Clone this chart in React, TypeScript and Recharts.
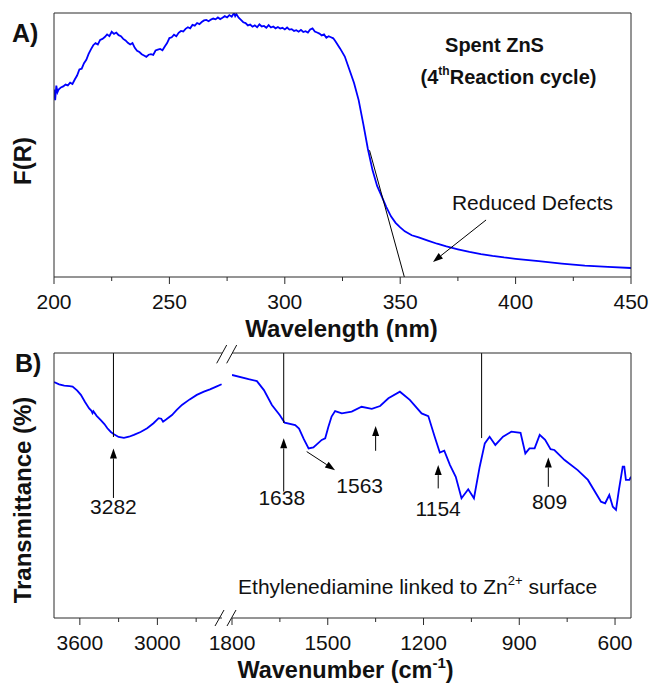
import React from 'react';
import { LineChart, Line, XAxis, YAxis, ReferenceLine, ReferenceDot } from 'recharts';

// ---------- Panel A: UV-Vis DRS (Kubelka-Munk) ----------
const uvWavelength = [
  200, 200.5, 201, 201.5, 202, 203, 204, 205, 206, 207,
  208, 209, 210, 211, 212, 213, 214, 215, 216, 217,
  218, 219, 220, 221, 222, 223, 224, 225, 226, 227,
  228, 229, 230, 231, 232, 233, 234, 235, 236, 237,
  238, 239, 240, 241, 242, 243, 244, 245, 246, 247,
  248, 249, 250, 251, 252, 253, 254, 255, 256, 257,
  258, 259, 260, 261, 262, 263, 264, 265, 266, 267,
  268, 269, 270, 271, 272, 273, 274, 275, 276, 277,
  278, 278.5, 279, 280, 281, 282, 283, 284, 285, 286,
  287, 288, 289, 290, 291, 292, 293, 294, 295, 296,
  297, 298, 299, 300, 301, 302, 303, 304, 305, 306,
  307, 308, 309, 310, 311, 312, 313, 314, 315, 316,
  317, 318, 319, 320, 321, 322, 324, 326, 328, 330,
  332, 334, 336, 338, 340, 342, 344, 346, 348, 350,
  352, 355, 358, 362, 366, 370, 375, 380, 385, 390,
  395, 400, 410, 420, 430, 440, 450,
];
const uvFR = [
  71, 67, 72.5, 70, 71, 71.8, 72.2, 72.9, 72.6, 73.6,
  73.1, 74.8, 76.3, 78.6, 78.9, 81, 82.3, 84.5, 86.2, 87.8,
  88.6, 88.1, 89.8, 90.2, 90.9, 91.9, 91.2, 92.9, 92.1, 92.6,
  91.6, 91.2, 90.2, 89.6, 88.7, 88.1, 88.6, 86.8, 85.7, 85.2,
  84.4, 83.9, 83.4, 84.2, 84.4, 84.1, 85.8, 86.1, 86.4, 85.9,
  87.3, 88.6, 90.5, 90.8, 91.8, 91.2, 92.5, 93.2, 93, 94,
  94.6, 94.2, 95.5, 95.2, 96.2, 95.8, 96.6, 97.2, 97.4, 96.9,
  97.5, 97.9, 97.6, 98.3, 97.7, 98.2, 98.8, 98.3, 99.2, 98.6,
  100, 98.8, 99.6, 98.2, 97.4, 96.5, 96.2, 95.3, 95.6, 94.8,
  95.3, 94.6, 95.7, 94.9, 95.1, 94.4, 95.4, 94.5, 94.9, 94.2,
  94.7, 94.1, 94.4, 93.8, 94.5, 93.7, 93.9, 93.2, 93.5, 92.9,
  93.6, 92.8, 93.1, 92.6, 93.8, 94.2, 93, 92.6, 92.2, 91.5,
  91.9, 90.6, 91.2, 90.8, 90.4, 89.2, 86.5, 83.5, 78.5, 73.5,
  67, 58, 48.5, 40.5, 34.5, 30.5, 26.5, 23, 20.5, 18.8,
  17.3, 15.8, 15, 13.8, 12.6, 11.6, 10.5, 9.5, 8.7, 8,
  7.4, 6.9, 6, 5.1, 4.3, 3.8, 3.4,
];
const uvTicks = [200, 225, 250, 275, 300, 325, 350, 375, 400, 425, 450];
const uvMajorTicks = [200, 250, 300, 350, 400, 450];
const uvYTicks = [10, 20, 30, 40, 50, 60, 70, 80, 90];

// ---------- Panel B: FTIR (broken axis) ----------
const irWavenumberHigh = [
  3800, 3760, 3721, 3680, 3656, 3620, 3592, 3560, 3528, 3510, 3502, 3495, 3470, 3438, 3410, 3387, 3360, 3336,
  3300, 3259, 3220, 3182, 3130, 3079, 3030, 2990, 2970, 2956, 2930, 2887, 2850, 2810, 2750, 2695, 2640, 2593,
  2540, 2503,
];
const irTransHigh = [
  89, 88.2, 87.7, 87.5, 87.3, 85.8, 84.2, 81.5, 79.1, 78.2, 77.3, 78, 76.3, 74.7, 73.2, 71.6, 70.2, 69.3,
  68.3, 68.0, 68.4, 69.1, 70.2, 71.6, 73.5, 75.4, 75.2, 74.1, 75, 76.6, 78.5, 80.4, 82.5, 84.2, 85.4, 86.3,
  87.4, 88.2,
];
const irWavenumberLow = [
  1800, 1748, 1722, 1700, 1675, 1650, 1635, 1602, 1590, 1575, 1560, 1545, 1530, 1519, 1508, 1498, 1488, 1477,
  1456, 1425, 1394, 1362, 1336, 1310, 1274, 1243, 1206, 1185, 1165, 1149, 1135, 1117, 1099, 1081, 1060, 1042,
  1024, 1008, 993, 975, 951, 925, 896, 881, 868, 852, 836, 819, 802, 790, 758, 717, 685, 644, 631, 618,
  607, 597, 588, 576, 571, 566, 555, 550,
];
const irTransLow = [
  91.7, 90.1, 89.4, 86, 80.4, 76.5, 73.7, 72.8, 71.5, 67.5, 64.0, 64.4, 66, 67.2, 67.8, 72.2, 76, 78.1,
  77.2, 77.9, 79.7, 78.9, 80.0, 82.9, 85.4, 82.3, 77.2, 76.2, 68.4, 62.4, 63.1, 57.7, 53.3, 45.2, 48.6, 45.2,
  57.1, 65.9, 68.4, 65.3, 68.4, 70.3, 69.9, 62.1, 64.0, 64, 69.1, 67.2, 63.7, 63.4, 59.6, 55.8, 52.1, 43.9, 43.3, 46.4,
  42.0, 40.8, 48.3, 57.1, 57.1, 52.1, 52.1, 53.3,
];
const irHighTicks = [3600, 3300, 3000, 2700];
const irHighMajorTicks = [3600, 3000];
const irLowTicks = [1800, 1650, 1500, 1350, 1200, 1050, 900, 750, 600];
const irLowMajorTicks = [1800, 1500, 1200, 900, 600];
const irYTicks = [14.7, 29.4, 44.1, 58.8, 73.5, 88.2];

// annotation anchors (data coordinates)
const irPeakLines = [
  { seg: 'high', x: 3340, from: 100, to: 68.3 },
  { seg: 'low', x: 1638, from: 100, to: 73.6 },
  { seg: 'low', x: 1018, from: 100, to: 67.9 },
];
const irArrows = [
  { seg: 'high', x1: 3340, y1: 45.3, x2: 3340, y2: 64.0 },
  { seg: 'low', x1: 1638, y1: 47.7, x2: 1638, y2: 67.8 },
  { seg: 'low', x1: 1566, y1: 62.8, x2: 1477, y2: 55.8 },
  { seg: 'low', x1: 1350, y1: 63.1, x2: 1350, y2: 72.5 },
  { seg: 'low', x1: 1154, y1: 48.9, x2: 1154, y2: 57.7 },
  { seg: 'low', x1: 809, y1: 49.5, x2: 809, y2: 60.6 },
];
const irLabels = [
  { seg: 'high', x: 3340, y: 39.2, text: '3282' },
  { seg: 'low', x: 1644, y: 42.6, text: '1638' },
  { seg: 'low', x: 1400, y: 47.2, text: '1563' },
  { seg: 'low', x: 1154, y: 38.5, text: '1154' },
  { seg: 'low', x: 805, y: 41.1, text: '809' },
];

const uvData = uvWavelength.map((x, i) => ({ x, y: uvFR[i] }));
const irHighData = irWavenumberHigh.map((x, i) => ({ x, y: irTransHigh[i] }));
const irLowData = irWavenumberLow.map((x, i) => ({ x, y: irTransLow[i] }));

const FONT = '"Liberation Sans", Arial, Helvetica, sans-serif';
const AXIS = '#2a2a2a';
const BLUE = '#0000ff';
const TICK_FS = 21;
const NOTE_FS = 21;

function bottomTick(majors: number[]) {
  return (props: any) => {
    const { x, y, payload } = props;
    const isMajor = majors.includes(payload.value);
    return (
      <g>
        <line x1={x} y1={y} x2={x} y2={y + (isMajor ? 7 : 4)} stroke={AXIS} strokeWidth={1} />
        {isMajor && (
          <text x={x} y={y + 32} textAnchor="middle" fontSize={TICK_FS} fontFamily={FONT} fill="#111">
            {payload.value}
          </text>
        )}
      </g>
    );
  };
}

const arrowShape = (p: any) => {
  const { x1, y1, x2, y2 } = p;
  const dx = x2 - x1;
  const dy = y2 - y1;
  const len = Math.hypot(dx, dy) || 1;
  const ux = dx / len;
  const uy = dy / len;
  const hl = 10;
  const hw = 3.5;
  const bx = x2 - ux * hl;
  const by = y2 - uy * hl;
  const pts = `${x2},${y2} ${bx - uy * hw},${by + ux * hw} ${bx + uy * hw},${by - ux * hw}`;
  return (
    <g>
      <line x1={x1} y1={y1} x2={bx} y2={by} stroke="#000" strokeWidth={1} />
      <polygon points={pts} fill="#000" />
    </g>
  );
};

const plainLine = (p: any) => (
  <line x1={p.x1} y1={p.y1} x2={p.x2} y2={p.y2} stroke="#000" strokeWidth={1} />
);

const textShape = (text: string, anchor: 'middle' | 'start' = 'middle') => (p: any) => (
  <text x={p.cx} y={p.cy} textAnchor={anchor} fontSize={NOTE_FS} fontFamily={FONT} fill="#111">
    {text}
  </text>
);

const zincShape = (p: any) => (
  <text x={p.cx} y={p.cy} textAnchor="start" fontSize={NOTE_FS} fontFamily={FONT} fill="#111">
    Ethylenediamine linked to Zn
    <tspan fontSize={13} dy={-9}>2+</tspan>
    <tspan dy={9}> surface</tspan>
  </text>
);

const hiddenLine = (xId: string, yId: string) => (
  <Line
    xAxisId={xId}
    yAxisId={yId}
    dataKey="y"
    stroke="none"
    dot={false}
    activeDot={false}
    isAnimationActive={false}
    legendType="none"
  />
);

export default function App() {
  return (
    <div
      style={{
        position: 'absolute',
        left: 0,
        top: 0,
        width: 651,
        height: 688,
        background: '#fff',
        fontFamily: FONT,
        overflow: 'hidden',
      }}
    >
      {/* Panel A */}
      <div style={{ position: 'absolute', left: 0, top: 0 }}>
        <LineChart width={651} height={345} data={uvData} margin={{ top: 13, right: 20, bottom: 28, left: 54 }}>
          <XAxis
            xAxisId="b"
            dataKey="x"
            type="number"
            domain={[200, 450]}
            ticks={uvTicks}
            interval={0}
            allowDataOverflow
            tickLine={false}
            tickSize={0}
            tickMargin={0}
            tick={bottomTick(uvMajorTicks)}
            height={40}
            axisLine={{ stroke: AXIS }}
          />
          <XAxis
            xAxisId="t"
            orientation="top"
            mirror
            dataKey="x"
            type="number"
            domain={[200, 450]}
            ticks={uvTicks}
            interval={0}
            allowDataOverflow
            tick={false}
            tickSize={3}
            axisLine={{ stroke: AXIS }}
            tickLine={{ stroke: AXIS }}
          />
          <YAxis
            yAxisId="l"
            mirror
            type="number"
            domain={[0, 100]}
            ticks={uvYTicks}
            interval={0}
            allowDataOverflow
            tick={false}
            tickSize={3}
            axisLine={{ stroke: AXIS }}
            tickLine={{ stroke: AXIS }}
          />
          <YAxis
            yAxisId="r"
            orientation="right"
            mirror
            type="number"
            domain={[0, 100]}
            ticks={uvYTicks}
            interval={0}
            allowDataOverflow
            tick={false}
            tickSize={3}
            axisLine={{ stroke: AXIS }}
            tickLine={{ stroke: AXIS }}
          />
          <Line
            xAxisId="b"
            yAxisId="l"
            dataKey="y"
            type="linear"
            stroke={BLUE}
            strokeWidth={1.8}
            dot={false}
            activeDot={false}
            isAnimationActive={false}
          />
          {hiddenLine('t', 'r')}
          <ReferenceLine
            xAxisId="b"
            yAxisId="l"
            segment={[{ x: 336.7, y: 48 }, { x: 351.8, y: 0 }]}
            shape={plainLine}
          />
          <ReferenceLine
            xAxisId="b"
            yAxisId="l"
            segment={[{ x: 387.2, y: 21.6 }, { x: 364.2, y: 5.7 }]}
            shape={arrowShape}
          />
          <ReferenceDot xAxisId="b" yAxisId="l" x={407.3} y={25.4} r={0} shape={textShape('Reduced Defects')} />
        </LineChart>
      </div>

      {/* Panel B, high-wavenumber segment */}
      <div style={{ position: 'absolute', left: 0, top: 340 }}>
        <LineChart width={222} height={348} data={irHighData} margin={{ top: 13, right: 0, bottom: 30, left: 54 }}>
          <XAxis
            xAxisId="b"
            dataKey="x"
            type="number"
            domain={[2500, 3800]}
            reversed
            ticks={irHighTicks}
            interval={0}
            allowDataOverflow
            tickLine={false}
            tickSize={0}
            tickMargin={0}
            tick={bottomTick(irHighMajorTicks)}
            height={40}
            axisLine={{ stroke: AXIS }}
          />
          <XAxis
            xAxisId="t"
            orientation="top"
            mirror
            dataKey="x"
            type="number"
            domain={[2500, 3800]}
            reversed
            ticks={irHighTicks}
            interval={0}
            allowDataOverflow
            tick={false}
            tickSize={3}
            axisLine={{ stroke: AXIS }}
            tickLine={{ stroke: AXIS }}
          />
          <YAxis
            yAxisId="l"
            mirror
            type="number"
            domain={[0, 100]}
            ticks={irYTicks}
            interval={0}
            allowDataOverflow
            tick={false}
            tickSize={3}
            axisLine={{ stroke: AXIS }}
            tickLine={{ stroke: AXIS }}
          />
          <Line
            xAxisId="b"
            yAxisId="l"
            dataKey="y"
            type="linear"
            stroke={BLUE}
            strokeWidth={1.8}
            dot={false}
            activeDot={false}
            isAnimationActive={false}
          />
          {hiddenLine('t', 'l')}
          {irPeakLines
            .filter((d) => d.seg === 'high')
            .map((d, i) => (
              <ReferenceLine
                key={`hp${i}`}
                xAxisId="b"
                yAxisId="l"
                segment={[{ x: d.x, y: d.from }, { x: d.x, y: d.to }]}
                shape={plainLine}
              />
            ))}
          {irArrows
            .filter((d) => d.seg === 'high')
            .map((d, i) => (
              <ReferenceLine
                key={`ha${i}`}
                xAxisId="b"
                yAxisId="l"
                segment={[{ x: d.x1, y: d.y1 }, { x: d.x2, y: d.y2 }]}
                shape={arrowShape}
              />
            ))}
          {irLabels
            .filter((d) => d.seg === 'high')
            .map((d, i) => (
              <ReferenceDot key={`hl${i}`} xAxisId="b" yAxisId="l" x={d.x} y={d.y} r={0} shape={textShape(d.text)} />
            ))}
        </LineChart>
      </div>

      {/* Panel B, low-wavenumber segment */}
      <div style={{ position: 'absolute', left: 190, top: 340 }}>
        <LineChart width={461} height={348} data={irLowData} margin={{ top: 13, right: 20, bottom: 30, left: 42 }}>
          <XAxis
            xAxisId="b"
            dataKey="x"
            type="number"
            domain={[550, 1800]}
            reversed
            ticks={irLowTicks}
            interval={0}
            allowDataOverflow
            tickLine={false}
            tickSize={0}
            tickMargin={0}
            tick={bottomTick(irLowMajorTicks)}
            height={40}
            axisLine={{ stroke: AXIS }}
          />
          <XAxis
            xAxisId="t"
            orientation="top"
            mirror
            dataKey="x"
            type="number"
            domain={[550, 1800]}
            reversed
            ticks={irLowTicks}
            interval={0}
            allowDataOverflow
            tick={false}
            tickSize={3}
            axisLine={{ stroke: AXIS }}
            tickLine={{ stroke: AXIS }}
          />
          <YAxis
            yAxisId="r"
            orientation="right"
            mirror
            type="number"
            domain={[0, 100]}
            ticks={irYTicks}
            interval={0}
            allowDataOverflow
            tick={false}
            tickSize={3}
            axisLine={{ stroke: AXIS }}
            tickLine={{ stroke: AXIS }}
          />
          <Line
            xAxisId="b"
            yAxisId="r"
            dataKey="y"
            type="linear"
            stroke={BLUE}
            strokeWidth={1.8}
            dot={false}
            activeDot={false}
            isAnimationActive={false}
          />
          {hiddenLine('t', 'r')}
          {irPeakLines
            .filter((d) => d.seg === 'low')
            .map((d, i) => (
              <ReferenceLine
                key={`lp${i}`}
                xAxisId="b"
                yAxisId="r"
                segment={[{ x: d.x, y: d.from }, { x: d.x, y: d.to }]}
                shape={plainLine}
              />
            ))}
          {irArrows
            .filter((d) => d.seg === 'low')
            .map((d, i) => (
              <ReferenceLine
                key={`la${i}`}
                xAxisId="b"
                yAxisId="r"
                segment={[{ x: d.x1, y: d.y1 }, { x: d.x2, y: d.y2 }]}
                shape={arrowShape}
              />
            ))}
          {irLabels
            .filter((d) => d.seg === 'low')
            .map((d, i) => (
              <ReferenceDot key={`ll${i}`} xAxisId="b" yAxisId="r" x={d.x} y={d.y} r={0} shape={textShape(d.text)} />
            ))}
          <ReferenceDot xAxisId="b" yAxisId="r" x={1781} y={9.1} r={0} shape={zincShape} />
        </LineChart>
      </div>

      {/* titles, axis titles and axis-break marks */}
      <svg
        width={651}
        height={688}
        style={{ position: 'absolute', left: 0, top: 0, pointerEvents: 'none' }}
        fontFamily={FONT}
      >
        <text x={12} y={42} fontSize={25} fontWeight="bold" fill="#111">A)</text>
        <text x={15} y={372} fontSize={25} fontWeight="bold" fill="#111">B)</text>

        <text
          x={22.5}
          y={161}
          fontSize={24}
          fontWeight="bold"
          fill="#111"
          textAnchor="middle"
          dominantBaseline="central"
          transform="rotate(-90 22.5 161)"
        >
          F(R)
        </text>
        <text
          x={22.5}
          y={500}
          fontSize={24}
          fontWeight="bold"
          fill="#111"
          textAnchor="middle"
          dominantBaseline="central"
          transform="rotate(-90 22.5 500)"
        >
          Transmittance (%)
        </text>

        <text x={341.5} y={337} fontSize={24} fontWeight="bold" fill="#111" textAnchor="middle">
          Wavelength (nm)
        </text>
        <text x={345.5} y={678} fontSize={23.5} fontWeight="bold" fill="#111" textAnchor="middle">
          Wavenumber (cm
          <tspan fontSize={15} dy={-10}>-1</tspan>
          <tspan dy={10}>)</tspan>
        </text>

        <text x={494.5} y={52} fontSize={20} fontWeight="bold" fill="#111" textAnchor="middle">
          Spent ZnS
        </text>
        <text x={508.5} y={83.5} fontSize={20} fontWeight="bold" fill="#111" textAnchor="middle">
          (4
          <tspan fontSize={12} dy={-9}>th</tspan>
          <tspan dy={9}>Reaction cycle)</tspan>
        </text>

        {/* axis break marks */}
        <line x1={216.7} y1={363.3} x2={226.7} y2={345} stroke="#111" strokeWidth={1} />
        <line x1={226.7} y1={363.3} x2={236.7} y2={345} stroke="#111" strokeWidth={1} />
        <line x1={215} y1={626} x2={224} y2={610} stroke="#111" strokeWidth={1} />
        <line x1={227} y1={626} x2={236} y2={610} stroke="#111" strokeWidth={1} />
      </svg>
    </div>
  );
}
